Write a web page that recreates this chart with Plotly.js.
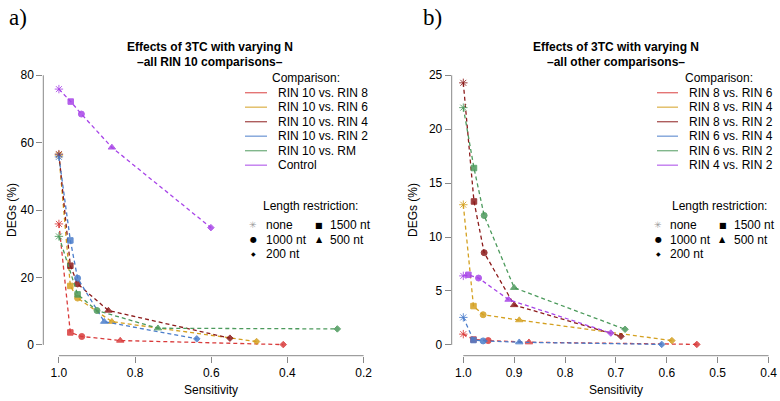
<!DOCTYPE html>
<html>
<head>
<meta charset="utf-8">
<script src="https://cdn.plot.ly/plotly-3.0.1.min.js"></script>
<style>
  html, body { margin: 0; padding: 0; background: #fff; }
  #chart { width: 780px; height: 401px; }
</style>
</head>
<body>
<div id="chart"></div>
<script>
// length restriction levels, in the order each series is drawn
const lengthLevels = ['none', '1500 nt', '1000 nt', '500 nt', '200 nt'];
const levelSymbols = ['asterisk-open', 'square', 'circle', 'triangle-up', 'diamond'];
const levelSizes   = [7, 5.5, 6, 6.5, 5];

// panel a) all RIN 10 comparisons
const compA = ['RIN 10 vs. RIN 8', 'RIN 10 vs. RIN 6', 'RIN 10 vs. RIN 4', 'RIN 10 vs. RIN 2', 'RIN 10 vs. RM', 'Control'];
const sensA = [
  [1.0, 0.970, 0.940, 0.839, 0.411],
  [1.0, 0.970, 0.951, 0.861, 0.481],
  [1.0, 0.970, 0.951, 0.870, 0.551],
  [1.0, 0.970, 0.951, 0.881, 0.638],
  [1.0, 0.951, 0.900, 0.740, 0.269],
  [1.0, 0.969, 0.941, 0.861, 0.601]
];
const degA = [
  [35.9, 3.7, 2.5, 1.3, 0.1],
  [56.3, 17.5, 13.9, 6.9, 1.0],
  [56.6, 23.5, 18.1, 10.2, 2.0],
  [55.8, 31.0, 19.8, 6.9, 1.8],
  [32.2, 15.0, 10.2, 4.95, 4.75],
  [75.9, 72.2, 68.5, 58.6, 34.8]
];

// panel b) all other comparisons
const compB = ['RIN 8 vs. RIN 6', 'RIN 8 vs. RIN 4', 'RIN 8 vs. RIN 2', 'RIN 6 vs. RIN 4', 'RIN 6 vs. RIN 2', 'RIN 4 vs. RIN 2'];
const sensB = [
  [1.0, 0.980, 0.951, 0.871, 0.541],
  [1.0, 0.980, 0.961, 0.890, 0.590],
  [1.0, 0.979, 0.959, 0.900, 0.690],
  [1.0, 0.980, 0.961, 0.890, 0.610],
  [1.0, 0.979, 0.959, 0.900, 0.682],
  [1.0, 0.990, 0.970, 0.911, 0.710]
];
const degB = [
  [1.0, 0.5, 0.4, 0.25, 0.05],
  [13.0, 3.6, 2.8, 2.3, 0.4],
  [24.3, 13.3, 8.55, 3.7, 0.8],
  [2.55, 0.45, 0.37, 0.25, 0.05],
  [22.0, 16.4, 12.0, 5.3, 1.45],
  [6.4, 6.5, 6.2, 4.2, 1.1]
];

// axis ticks
const xTicksA = [1.0, 0.8, 0.6, 0.4, 0.2];
const yTicksA = [0, 20, 40, 60, 80];
const xTicksB = [1.0, 0.9, 0.8, 0.7, 0.6, 0.5, 0.4];
const yTicksB = [0, 5, 10, 15, 20, 25];

const colors = ['#D93B3B', '#D4A020', '#8C1B1B', '#4A7DCB', '#4C9A5C', '#A845E8'];

const W = 780, H = 401;
const px = x => x / W;
const py = y => 1 - y / H;
const FONT = 'Liberation Sans, Arial, Helvetica, sans-serif';

function seriesTraces(xs, ys, cols, xa, ya) {
  return xs.map((x, i) => ({
    x: x, y: ys[i], xaxis: xa, yaxis: ya,
    type: 'scatter', mode: 'lines+markers',
    line: { color: cols[i], width: 1.3, dash: '4px,3px' },
    marker: {
      symbol: levelSymbols, size: levelSizes, color: cols[i], opacity: 0.85,
      line: { color: cols[i], width: 1 }
    },
    hoverinfo: 'skip', showlegend: false
  }));
}

const traces = [].concat(
  seriesTraces(sensA, degA, colors, 'x', 'y'),
  seriesTraces(sensB, degB, colors, 'x2', 'y2')
);

const shapes = [];
const annotations = [];

function ann(text, x, y, opts) {
  annotations.push(Object.assign({
    text: text, x: px(x), y: py(y), xref: 'paper', yref: 'paper',
    showarrow: false, xanchor: 'center', yanchor: 'middle',
    font: { family: FONT, size: 12, color: '#000' }
  }, opts || {}));
}

// R-style axis lines spanning only the tick range
function axisLines(xa, ya, xt, yt, xDom, yDom) {
  shapes.push({ type: 'line', xref: xa, yref: 'paper', x0: xt[0], x1: xt[xt.length - 1],
    y0: yDom[0], y1: yDom[0], line: { color: '#888', width: 1 } });
  shapes.push({ type: 'line', xref: 'paper', yref: ya, x0: xDom[0], x1: xDom[0],
    y0: yt[0], y1: yt[yt.length - 1], line: { color: '#888', width: 1 } });
}

function compLegend(names, cols, cx, lx0, lx1, tx) {
  ann('Comparison:', cx, 78);
  names.forEach((n, i) => {
    const y = 92.7 + i * 14.5;
    shapes.push({ type: 'line', xref: 'paper', yref: 'paper', x0: px(lx0), x1: px(lx1),
      y0: py(y), y1: py(y), line: { color: cols[i], width: 1.4 }, opacity: 0.7 });
    ann(n, tx, y, { xanchor: 'left' });
  });
}

function lengthLegend(cx, c1s, c1t, c2s, c2t) {
  ann('Length restriction:', cx, 206);
  const glyph = { 'none': ['✳', '#999', 9], '1500 nt': ['■', '#000', 8], '1000 nt': ['●', '#000', 8],
                  '500 nt': ['▲', '#000', 8], '200 nt': ['◆', '#000', 6] };
  // R legend with ncol = 2 fills column-wise
  const col1 = ['none', '1000 nt', '200 nt'];
  const col2 = ['1500 nt', '500 nt'];
  [[col1, c1s, c1t], [col2, c2s, c2t]].forEach(([items, sx, tx]) => {
    items.forEach((lv, i) => {
      const y = 225 + i * 14.5;
      const g = glyph[lv];
      ann(g[0], sx, y, { font: { family: 'DejaVu Sans', size: g[2], color: g[1] } });
      ann(lv, tx, y, { xanchor: 'left' });
    });
  });
}

const xDomA = [43.3 / W, 375.8 / W];
const xDomB = [451.7 / W, 1.0];
const yDom = [(H - 355.7) / H, (H - 64.5) / H];

axisLines('x', 'y', xTicksA, yTicksA, xDomA, yDom);
axisLines('x2', 'y2', xTicksB, yTicksB, xDomB, yDom);

compLegend(compA, colors, 306, 245, 267, 276);
compLegend(compB, colors, 719, 657, 678, 687);
lengthLegend(310, 253, 264, 319, 328);
lengthLegend(719, 658, 668, 722.7, 732);

// titles
ann('<b>Effects of 3TC with varying N</b>', 209.5, 47);
ann('<b>–all RIN 10 comparisons–</b>', 209.5, 62);
ann('<b>Effects of 3TC with varying N</b>', 615.7, 47);
ann('<b>–all other comparisons–</b>', 615.7, 62);
ann('a)', 18, 17, { font: { family: 'Liberation Serif, DejaVu Serif, serif', size: 23, color: '#000' } });
ann('b)', 432, 17, { font: { family: 'Liberation Serif, DejaVu Serif, serif', size: 23, color: '#000' } });

// axis titles
ann('Sensitivity', 211.5, 390);
ann('Sensitivity', 615.7, 390);
ann('DEGs (%)', 12, 210, { textangle: -90 });
ann('DEGs (%)', 413, 210, { textangle: -90 });

const axisBase = {
  ticks: 'outside', ticklen: 6, tickwidth: 1, tickcolor: '#888',
  showgrid: false, zeroline: false, showline: false, fixedrange: true,
  tickfont: { family: FONT, size: 12, color: '#000' }
};

const layout = {
  width: W, height: H,
  margin: { l: 0, r: 0, t: 0, b: 0 },
  paper_bgcolor: '#fff', plot_bgcolor: '#fff',
  showlegend: false,
  font: { family: FONT, size: 12, color: '#000' },
  xaxis: Object.assign({}, axisBase, { domain: xDomA, range: [1.041, 0.168], anchor: 'y',
    tickvals: xTicksA, ticktext: xTicksA.map(v => v.toFixed(1)) }),
  yaxis: Object.assign({}, axisBase, { domain: yDom, range: [-3.2, 83.2], anchor: 'x',
    tickvals: yTicksA, ticktext: yTicksA.map(String) }),
  xaxis2: Object.assign({}, axisBase, { domain: xDomB, range: [1.0228, 0.3775], anchor: 'y2',
    tickvals: xTicksB, ticktext: xTicksB.map(v => v.toFixed(1)) }),
  yaxis2: Object.assign({}, axisBase, { domain: yDom, range: [-1, 26], anchor: 'x2',
    tickvals: yTicksB, ticktext: yTicksB.map(String) }),
  shapes: shapes,
  annotations: annotations
};

Plotly.newPlot('chart', traces, layout, { displayModeBar: false, staticPlot: true });
</script>
</body>
</html>
